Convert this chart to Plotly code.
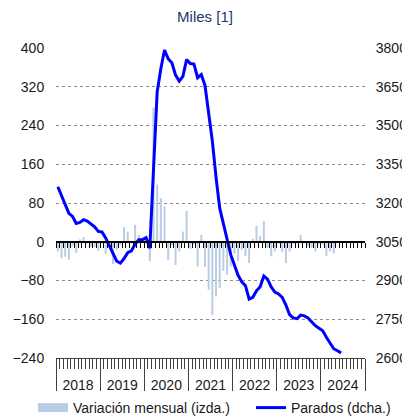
import plotly.graph_objects as go

years = ["2018", "2019", "2020", "2021", "2022", "2023", "2024"]

# Monthly data, Jan 2018 - Jun 2024 (thousands)
variacion = [
    -20, -34, -31, -37, -8, -23, 5, 10, -4, -10, -11, -19,
    -3, -25, -10, -46, -17, -7, 30, 21, -3, 35, 14, 6,
    8, -40, 277, 118, 90, 73, -38, -7, -48, -20, 21, 64,
    -15, -5, -51, 14, -52, -99, -151, -113, -95, -60, -68, -51,
    -25, -40, -17, -30, -44, 6, 33, 12, 43, -13, -30, -20,
    -4, -21, -44, -20, -5, -3, 14, -3, -8, -12, -20, -4,
    -6, -29, -20, -24, -3, -2,
]
parados = [
    3263, 3230, 3195, 3160, 3148, 3121, 3125, 3135, 3130, 3120, 3108, 3090,
    3088, 3065, 3035, 3005, 2975, 2967, 2985, 3008, 3015, 3040, 3058, 3058,
    3066, 3025, 3330, 3630, 3720, 3792, 3758, 3743, 3695, 3672, 3690, 3755,
    3740, 3738, 3685, 3697, 3655, 3555, 3440, 3300, 3180, 3120, 3060, 3000,
    2960, 2920, 2895, 2880, 2828, 2835, 2860, 2876, 2917, 2905, 2875, 2855,
    2848, 2835, 2805, 2768, 2755, 2752, 2766, 2763, 2755, 2740, 2725, 2715,
    2705, 2680, 2658, 2636, 2628, 2620,
]
left_ticks = [-240, -160, -80, 0, 80, 160, 240, 320, 400]
right_ticks = [2600, 2750, 2900, 3050, 3200, 3350, 3500, 3650, 3800]

n_months = 12 * len(years)
idx = list(range(len(variacion)))
xr = [-0.5, n_months - 0.5]
year_bounds = [12 * k - 0.5 for k in range(len(years) + 1)]
year_centers = [12 * k + 5.5 for k in range(len(years))]

FONT = "Liberation Sans, Arial, sans-serif"
BAR_COLOR = "#B9CDE5"
OFF = 8               # page body margin
W, H = 402, 412

fig = go.Figure()
fig.add_trace(go.Bar(
    x=idx, y=variacion, name="Variación mensual (izda.)",
    marker=dict(color=BAR_COLOR, line=dict(width=0)),
    xaxis="x", yaxis="y", showlegend=False,
))
# legend proxy for the bars (wide rectangle swatch, draws nothing)
fig.add_trace(go.Scatter(
    x=idx, y=[None] * len(idx), name="Variación mensual (izda.)", mode="lines",
    line=dict(color=BAR_COLOR, width=9),
    xaxis="x", yaxis="y", legend="legend", hoverinfo="skip",
))
fig.add_trace(go.Scatter(
    x=idx, y=parados, name="Parados (dcha.)", mode="lines",
    line=dict(color="#0000FF", width=3),
    xaxis="x", yaxis="y2", legend="legend2",
))
# helper (invisible) traces so the decorative axes are drawn
for ax in ["x2", "x3", "x4"]:
    fig.add_trace(go.Scatter(
        x=year_centers, y=[None] * len(year_centers), mode="lines",
        xaxis=ax, yaxis="y", showlegend=False, hoverinfo="skip",
    ))

fig.update_layout(
    width=W, height=H,
    margin=dict(l=56 - OFF, r=W + OFF - 365, t=48 - OFF, b=H + OFF - 358, autoexpand=False),
    paper_bgcolor="white", plot_bgcolor="white",
    font=dict(family=FONT, size=14, color="#1a1a1a"),
    bargap=0.45,
    title=dict(text="Miles [1]", x=(205 - OFF) / W, xref="container", xanchor="center",
               y=1.0, yref="container", yanchor="top", pad=dict(t=3, b=0),
               font=dict(size=15, color="#1F3864", family=FONT)),
    xaxis=dict(
        range=xr, anchor="y", showline=True, linecolor="#404040", linewidth=1,
        ticks="outside", ticklen=10, tickcolor="#404040", tickwidth=1,
        tickmode="linear", tick0=-0.5, dtick=1, automargin=False,
        showticklabels=False, showgrid=False, zeroline=False,
    ),
    xaxis2=dict(
        range=xr, overlaying="x", anchor="y", automargin=False,
        tickmode="array", tickvals=year_bounds, ticks="outside", ticklen=32,
        tickcolor="#404040", tickwidth=1,
        showticklabels=False, showgrid=False, zeroline=False, showline=False,
    ),
    xaxis3=dict(
        range=xr, overlaying="x", anchor="y", automargin=False,
        tickmode="array", tickvals=year_centers, ticktext=years,
        ticks="outside", ticklen=14, tickcolor="rgba(0,0,0,0)",
        tickfont=dict(size=14, color="#1a1a1a"),
        showgrid=False, zeroline=False, showline=False,
    ),
    xaxis4=dict(
        range=xr, overlaying="x", anchor="free", position=240 / 640,
        showline=True, linecolor="#000000", linewidth=1.5, automargin=False,
        ticks="outside", ticklen=5, tickcolor="#000000", tickwidth=1,
        tickmode="linear", tick0=-0.5, dtick=1,
        showticklabels=False, showgrid=False, zeroline=False,
    ),
    yaxis=dict(
        range=[-240, 400], tickmode="array", tickvals=left_ticks,
        ticks="outside", ticklen=8, tickcolor="rgba(0,0,0,0)", automargin=False,
        showgrid=True, gridcolor="#8c8c8c", griddash="dot", gridwidth=1,
        zeroline=False, showline=False,
    ),
    yaxis2=dict(
        range=[2600, 3800], overlaying="y", side="right", anchor="x",
        tickmode="array", tickvals=right_ticks, automargin=False,
        ticks="outside", ticklen=7, tickcolor="rgba(0,0,0,0)",
        showgrid=False, zeroline=False, showline=False,
    ),
    legend=dict(
        orientation="h", xref="container", yref="container",
        x=(33 - OFF) / W, xanchor="left", y=(H + OFF - 408) / H, yanchor="middle",
        font=dict(size=14, color="#1a1a1a"), bgcolor="rgba(0,0,0,0)",
        itemwidth=30,
    ),
    legend2=dict(
        orientation="h", xref="container", yref="container",
        x=(251 - OFF) / W, xanchor="left", y=(H + OFF - 408) / H, yanchor="middle",
        font=dict(size=14, color="#1a1a1a"), bgcolor="rgba(0,0,0,0)",
        itemwidth=30,
    ),
    showlegend=True,
)

fig.write_html("out.html")
